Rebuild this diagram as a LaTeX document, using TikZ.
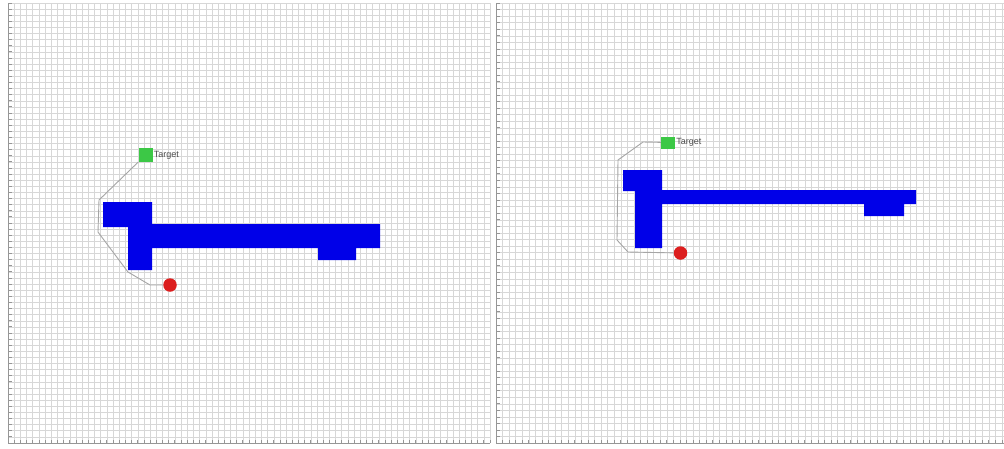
\documentclass[tikz,border=0pt]{standalone}
\usepackage{fontspec}
\setmainfont{Liberation Sans}
\definecolor{obst}{RGB}{0,0,232}
\definecolor{tgt}{RGB}{60,200,70}
\definecolor{start}{RGB}{220,30,30}
\definecolor{gridc}{RGB}{215,215,215}
\definecolor{tickc}{RGB}{150,150,150}
\definecolor{pathc}{RGB}{165,165,165}
\begin{document}
\begin{tikzpicture}[x=1pt,y=-1pt,
  gridline/.style={gridc,line width=0.45pt},
  tickline/.style={tickc,line width=0.8pt},
  edgeline/.style={tickc,line width=0.7pt},
  obstacle/.style={fill=obst,draw=none},
  target/.style={fill=tgt,draw=none,minimum width=14pt,minimum height=14pt,inner sep=0pt},
  robot/.style={circle,fill=start,draw=none,minimum size=13.5pt,inner sep=0pt},
  label/.style={font=\fontsize{9}{10}\selectfont,text=black!70,inner sep=1pt,anchor=west},
  route/.style={pathc,line width=0.9pt}]
\useasboundingbox (0,0) rectangle (1004,448);
\fill[white] (0,0) rectangle (1004,448);
% ---------- left panel grid ----------
\foreach \i in {0,...,78} \draw[gridline] ({8+\i*6.18},3) -- ({8+\i*6.18},443);
\foreach \j in {0,...,72} \draw[gridline] (8,{3+\j*6.11}) -- (490,{3+\j*6.11});
\foreach \j in {0,...,72} \draw[tickline] (8,{3+\j*6.11}) -- (11.5,{3+\j*6.11});
\foreach \i in {0,...,78} \draw[tickline] ({8+\i*6.18},443) -- ({8+\i*6.18},439.5);
\draw[edgeline] (8,3) -- (8,443) -- (490,443);
% ---------- right panel grid ----------
\foreach \i in {0,...,77} \draw[gridline] ({496+\i*6.57},3) -- ({496+\i*6.57},443);
\foreach \j in {0,...,67} \draw[gridline] (496,{3+\j*6.57}) -- (1004,{3+\j*6.57});
\foreach \j in {0,...,67} \draw[tickline] (496,{3+\j*6.57}) -- (499.5,{3+\j*6.57});
\foreach \i in {0,...,77} \draw[tickline] ({496+\i*6.57},443) -- ({496+\i*6.57},439.5);
\draw[edgeline] (496,3) -- (496,443) -- (1004,443);
% ---------- left obstacles ----------
\fill[obstacle] (103,202) -- (152,202) -- (152,224) -- (380,224) -- (380,248)
  -- (356,248) -- (356,260) -- (318,260) -- (318,248) -- (152,248) -- (152,270)
  -- (128,270) -- (128,227) -- (103,227) -- cycle;
% ---------- right obstacles ----------
\fill[obstacle] (623,170) -- (662,170) -- (662,190) -- (916,190) -- (916,204)
  -- (904,204) -- (904,216) -- (864,216) -- (864,204) -- (662,204) -- (662,248)
  -- (635,248) -- (635,191) -- (623,191) -- cycle;
% ---------- left path ----------
\node[target] (gL) at (145.5,155) {};
\node[label] (tL) at (gL.east) {Target};
\node[robot] (sL) at (170,285) {};
\coordinate (l1) at (99,200);
\coordinate (l2) at (98,232);
\coordinate (l3) at (128,272);
\coordinate (l4) at (150,285);
\draw[route] (gL) -- (l1) -- (l2) -- (l3) -- (l4) -- (sL);
% ---------- right path ----------
\node[target,minimum height=12pt] (gR) at (668,142.5) {};
\node[label] (tR) at (gR.east) {Target};
\node[robot] (sR) at (680.5,253) {};
\coordinate (r1) at (643,142);
\coordinate (r2) at (618,160);
\coordinate (r3) at (617,240);
\coordinate (r4) at (628,252);
\draw[route] (gR) -- (r1) -- (r2) -- (r3) -- (r4) -- (sR);
\end{tikzpicture}
\end{document}
